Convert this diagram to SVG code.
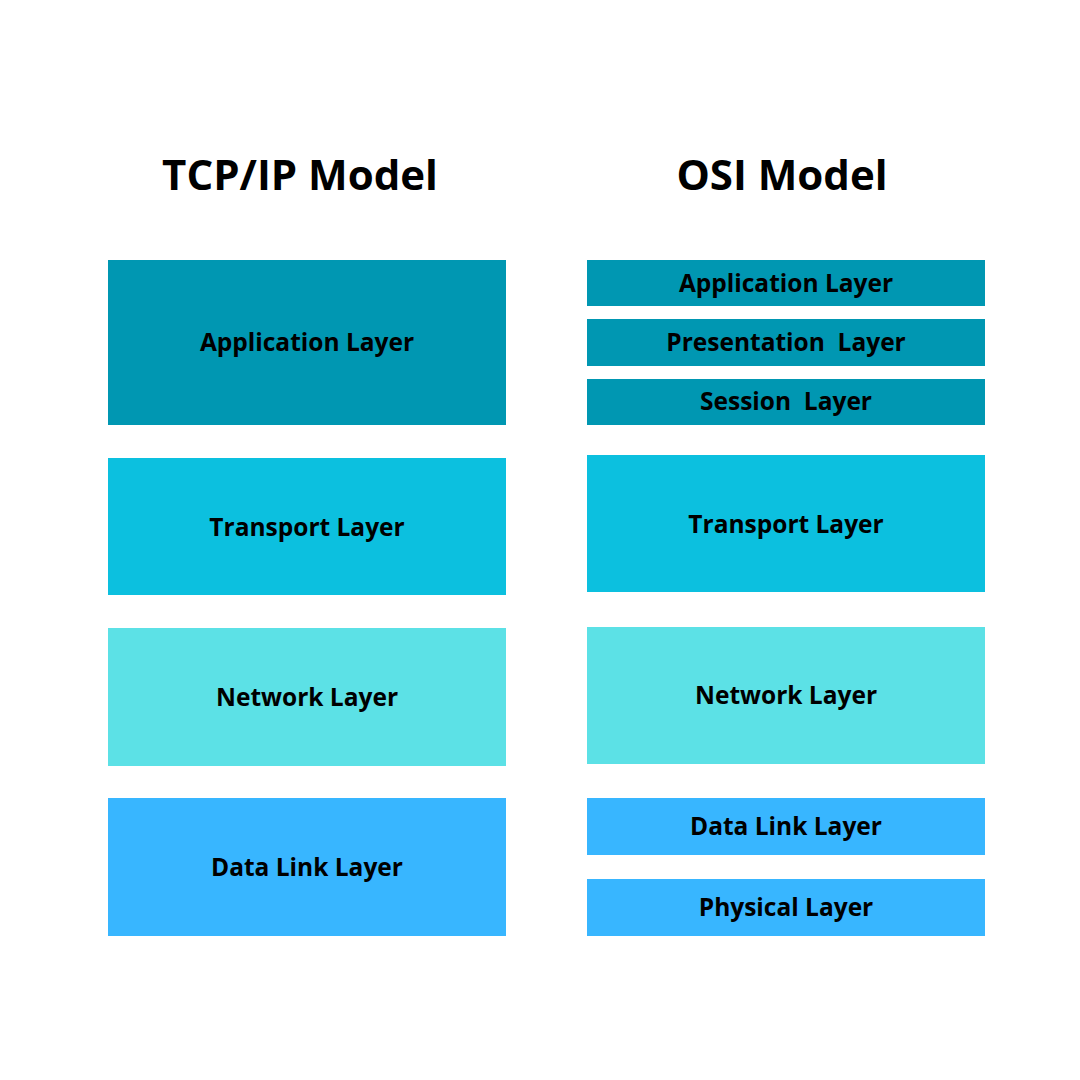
<svg xmlns="http://www.w3.org/2000/svg" width="1080" height="1080" viewBox="0 0 1080 1080">
<style>
.t{font-family:"Open Sans","Liberation Sans",sans-serif;font-weight:bold;font-size:42px;fill:#000;text-anchor:middle}
.l{font-family:"Open Sans","Liberation Sans",sans-serif;font-weight:bold;font-size:24.5px;fill:#000;text-anchor:middle;dominant-baseline:central}
.c1{fill:#0097b2}.c2{fill:#0cc0df}.c3{fill:#5ce1e6}.c4{fill:#38b6ff}
</style>
<rect width="1080" height="1080" fill="#fff"/>
<text class="t" x="300" y="190">TCP/IP Model</text>
<text class="t" x="782" y="190">OSI Model</text>
<g id="tcp-app"><rect class="c1" x="108" y="260" width="398" height="165"/><text class="l" x="307" y="341">Application Layer</text></g>
<g id="tcp-transport"><rect class="c2" x="108" y="458" width="398" height="137"/><text class="l" x="307" y="526">Transport Layer</text></g>
<g id="tcp-network"><rect class="c3" x="108" y="628" width="398" height="138"/><text class="l" x="307" y="696">Network Layer</text></g>
<g id="tcp-datalink"><rect class="c4" x="108" y="798" width="398" height="138"/><text class="l" x="307" y="866">Data Link Layer</text></g>
<g id="osi-app"><rect class="c1" x="587" y="260" width="398" height="46"/><text class="l" x="786" y="282">Application Layer</text></g>
<g id="osi-presentation"><rect class="c1" x="587" y="319" width="398" height="47"/><text class="l" x="786" y="341" xml:space="preserve">Presentation  Layer</text></g>
<g id="osi-session"><rect class="c1" x="587" y="379" width="398" height="46"/><text class="l" x="786" y="400" xml:space="preserve">Session  Layer</text></g>
<g id="osi-transport"><rect class="c2" x="587" y="455" width="398" height="137"/><text class="l" x="786" y="523">Transport Layer</text></g>
<g id="osi-network"><rect class="c3" x="587" y="627" width="398" height="137"/><text class="l" x="786" y="694">Network Layer</text></g>
<g id="osi-datalink"><rect class="c4" x="587" y="798" width="398" height="57"/><text class="l" x="786" y="825">Data Link Layer</text></g>
<g id="osi-physical"><rect class="c4" x="587" y="879" width="398" height="57"/><text class="l" x="786" y="906">Physical Layer</text></g>
<g id="connectors"/>
</svg>
